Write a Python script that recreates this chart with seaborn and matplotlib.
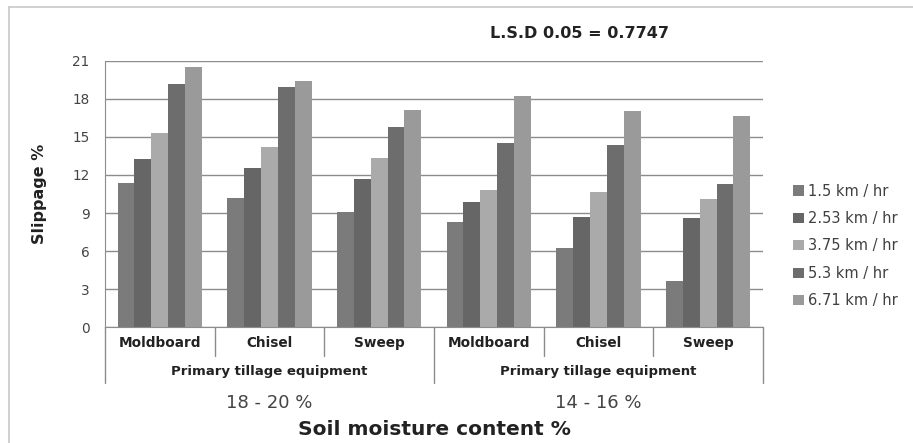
import pandas as pd
import matplotlib
matplotlib.use("Agg")
import matplotlib.pyplot as plt
import matplotlib.transforms as mtransforms
from matplotlib.lines import Line2D
import seaborn as sns

## DATA ..........................................................................

moisture = ["18 - 20 %", "14 - 16 %"]
equipment = ["Moldboard", "Chisel", "Sweep"]
speeds = ["1.5 km / hr", "2.53 km / hr", "3.75 km / hr", "5.3 km / hr", "6.71 km / hr"]

# slippage % per speed, order: 18-20 (Moldboard, Chisel, Sweep), 14-16 (Moldboard, Chisel, Sweep)
s_150 = [11.4, 10.2, 9.05, 8.27, 6.22, 3.67]
s_253 = [13.25, 12.52, 11.65, 9.87, 8.69, 8.61]
s_375 = [15.3, 14.22, 13.36, 10.84, 10.65, 10.13]
s_530 = [19.13, 18.9, 15.77, 14.49, 14.33, 11.28]
s_671 = [20.5, 19.42, 17.11, 18.19, 17.01, 16.62]
series = [s_150, s_253, s_375, s_530, s_671]

colors = ["#7b7b7b", "#666666", "#aaaaaa", "#6d6d6d", "#9a9a9a"]

rows = []
for sp, vals in zip(speeds, series):
    i = 0
    for m in moisture:
        for e in equipment:
            rows.append({"cat": m + " " + e, "speed": sp, "val": vals[i]})
            i += 1
df = pd.DataFrame(rows)
cats = [m + " " + e for m in moisture for e in equipment]

## PLOT ..........................................................................

sns.set_style("white")
plt.rcParams["font.family"] = ["DejaVu Sans"]

fig = plt.figure(figsize=(9.13, 4.43), dpi=100)
ax = fig.add_axes([0.115, 0.2612, 0.7207, 0.6018])

sns.barplot(data=df, x="cat", y="val", hue="speed", order=cats, hue_order=speeds,
            palette=colors, width=0.77, saturation=1, linewidth=0, ax=ax)

ax.set_xlim(-0.5, 5.5)
ax.set_ylim(0, 21)
ax.set_yticks(range(0, 22, 3))
ax.yaxis.grid(True, color="#8c8c8c", lw=1)
ax.set_axisbelow(True)
for s in ["top", "right"]:
    ax.spines[s].set_visible(False)
ax.spines["left"].set_color("#8c8c8c")
ax.spines["bottom"].set_color("#8c8c8c")
ax.tick_params(axis="y", length=5, color="#8c8c8c", labelsize=9.8, labelcolor="#444444", pad=6)
ax.set_xticks([])
ax.set_xlabel("")
ax.set_ylabel("Slippage %", fontsize=11.5, fontweight="bold", labelpad=18, color="#222222")

# multi-level category axis
trans = mtransforms.blended_transform_factory(ax.transData, ax.transAxes)
for k in range(7):
    xb = k - 0.5
    depth = -0.209 if k % 3 == 0 else -0.1065
    ax.add_line(Line2D([xb, xb], [0, depth], transform=trans, color="#8c8c8c", lw=1, clip_on=False))
for i, c in enumerate(cats):
    ax.text(i, -0.058, equipment[i % 3], transform=trans, ha="center", va="center",
            fontsize=9.8, fontweight="bold", color="#222222")
for g, m in enumerate(moisture):
    xc = g * 3 + 1
    ax.text(xc, -0.164, "Primary tillage equipment", transform=trans, ha="center", va="center",
            fontsize=9.5, fontweight="bold", color="#222222")
    ax.text(xc, -0.284, m, transform=trans, ha="center", va="center", fontsize=13, color="#444444")
ax.text(0.5, -0.385, "Soil moisture content %", transform=ax.transAxes, ha="center", va="center",
        fontsize=14.5, fontweight="bold", color="#222222")

fig.text(580 / 913, 1 - 33 / 443, "L.S.D 0.05 = 0.7747", ha="center", va="center",
         fontsize=11.5, fontweight="bold", color="#222222")

ax.legend(loc="center left", bbox_to_anchor=(1.035, 0.305), frameon=False, fontsize=10.5,
          handlelength=0.7, handleheight=0.7, handletextpad=0.3, labelspacing=0.85,
          borderpad=0, labelcolor="#404040")

# outer chart border
fig.add_artist(Line2D([9 / 913, 9 / 913], [0, 1 - 7 / 443], transform=fig.transFigure, color="#c8c8c8", lw=1.2))
fig.add_artist(Line2D([9 / 913, 1], [1 - 7 / 443, 1 - 7 / 443], transform=fig.transFigure, color="#c8c8c8", lw=1.2))

fig.savefig("out.png", dpi=100)
